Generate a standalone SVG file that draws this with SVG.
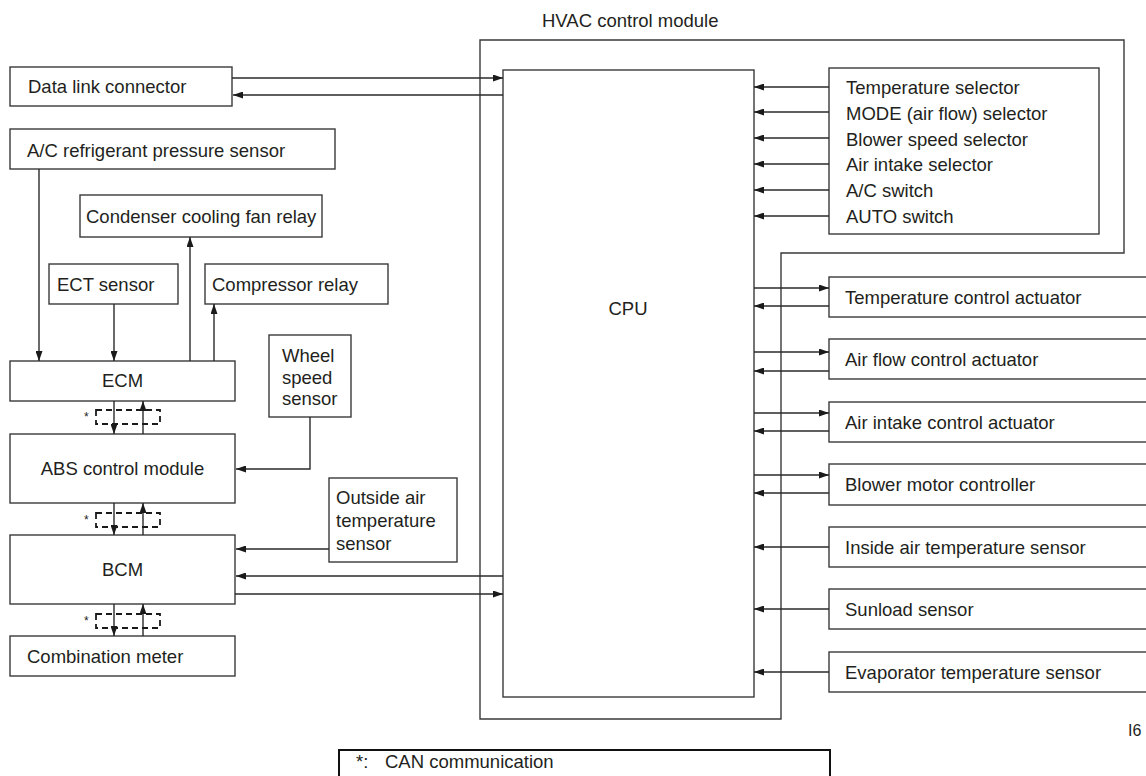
<svg xmlns="http://www.w3.org/2000/svg" width="1146" height="776" viewBox="0 0 1146 776">
<style>
.box{fill:#fff;stroke:#3a3a3a;stroke-width:1.4}
.frame{fill:none;stroke:#3a3a3a;stroke-width:1.4}
.t{font-family:"Liberation Sans",Arial,sans-serif;font-size:18.5px;fill:#231f20}
.c{text-anchor:middle}
.ln{fill:none;stroke:#2a2a2a;stroke-width:1.4}
.arr{marker-end:url(#ah)}
.can{fill:none;stroke:#1a1a1a;stroke-width:1.8;stroke-dasharray:6,4}
</style>
<defs>
<marker id="ah" markerUnits="userSpaceOnUse" markerWidth="10" markerHeight="7" refX="10" refY="3.5" orient="auto">
<path d="M0,0 L10,3.5 L0,7 z" fill="#1a1a1a"/>
</marker>
</defs>

<g id="hvac-module">
<path class="frame" d="M480,40 H1124 V253 H781 V719 H480 Z"/>
<text class="t" x="542" y="27">HVAC control module</text>
</g>

<g id="cpu">
<rect class="box" x="503" y="70" width="251" height="627"/>
<text class="t c" x="628" y="315">CPU</text>
</g>

<g id="selectors">
<rect class="box" x="829" y="68" width="270" height="166"/>
<text class="t" x="846" y="94">Temperature selector</text>
<text class="t" x="846" y="120">MODE (air flow) selector</text>
<text class="t" x="846" y="146">Blower speed selector</text>
<text class="t" x="846" y="171">Air intake selector</text>
<text class="t" x="846" y="197">A/C switch</text>
<text class="t" x="846" y="223">AUTO switch</text>
</g>

<g id="temp-actuator"><rect class="box" x="829" y="277" width="340" height="40"/><text class="t" x="845" y="304">Temperature control actuator</text></g>
<g id="airflow-actuator"><rect class="box" x="829" y="339" width="340" height="40"/><text class="t" x="845" y="366">Air flow control actuator</text></g>
<g id="intake-actuator"><rect class="box" x="829" y="402" width="340" height="40"/><text class="t" x="845" y="429">Air intake control actuator</text></g>
<g id="blower-controller"><rect class="box" x="829" y="464" width="340" height="41"/><text class="t" x="845" y="491">Blower motor controller</text></g>
<g id="inside-air-sensor"><rect class="box" x="829" y="527" width="340" height="40"/><text class="t" x="845" y="554">Inside air temperature sensor</text></g>
<g id="sunload-sensor"><rect class="box" x="829" y="589" width="340" height="40"/><text class="t" x="845" y="616">Sunload sensor</text></g>
<g id="evaporator-sensor"><rect class="box" x="829" y="652" width="340" height="40"/><text class="t" x="845" y="679">Evaporator temperature sensor</text></g>

<g id="data-link"><rect class="box" x="10" y="67" width="222" height="39"/><text class="t" x="28" y="93">Data link connector</text></g>
<g id="ac-pressure"><rect class="box" x="10" y="129" width="325" height="40"/><text class="t" x="27" y="157">A/C refrigerant pressure sensor</text></g>
<g id="condenser-relay"><rect class="box" x="80" y="195" width="242" height="42"/><text class="t" x="86" y="223">Condenser cooling fan relay</text></g>
<g id="ect-sensor"><rect class="box" x="49" y="264" width="129" height="40"/><text class="t" x="57" y="291">ECT sensor</text></g>
<g id="compressor-relay"><rect class="box" x="205" y="264" width="183" height="40"/><text class="t" x="212" y="291">Compressor relay</text></g>
<g id="ecm"><rect class="box" x="10" y="361" width="225" height="40"/><text class="t c" x="122.5" y="387">ECM</text></g>
<g id="wheel-speed"><rect class="box" x="269" y="335" width="82" height="82"/>
<text class="t" x="282" y="362">Wheel</text><text class="t" x="282" y="383.5">speed</text><text class="t" x="282" y="405">sensor</text></g>
<g id="abs"><rect class="box" x="10" y="434" width="225" height="69"/><text class="t c" x="122.5" y="475">ABS control module</text></g>
<g id="outside-air"><rect class="box" x="329" y="478" width="128" height="84"/>
<text class="t" x="336" y="504">Outside air</text><text class="t" x="336" y="527">temperature</text><text class="t" x="336" y="550">sensor</text></g>
<g id="bcm"><rect class="box" x="10" y="535" width="225" height="69"/><text class="t c" x="122.5" y="576">BCM</text></g>
<g id="combination-meter"><rect class="box" x="10" y="636" width="225" height="40"/><text class="t" x="27" y="663">Combination meter</text></g>

<g id="connectors">
<line class="ln arr" x1="232" y1="78" x2="503" y2="78"/>
<line class="ln arr" x1="503" y1="95" x2="233" y2="95"/>
<line class="ln arr" x1="39" y1="169" x2="39" y2="361"/>
<line class="ln arr" x1="114" y1="304" x2="114" y2="361"/>
<line class="ln arr" x1="190" y1="361" x2="190" y2="237"/>
<line class="ln arr" x1="214" y1="361" x2="214" y2="304"/>
<polyline class="ln arr" points="310,417 310,469 236,469"/>
<line class="ln arr" x1="114" y1="401" x2="114" y2="434"/>
<line class="ln arr" x1="143" y1="434" x2="143" y2="401"/>
<line class="ln arr" x1="114" y1="503" x2="114" y2="535"/>
<line class="ln arr" x1="143" y1="535" x2="143" y2="503"/>
<line class="ln arr" x1="114" y1="604" x2="114" y2="636"/>
<line class="ln arr" x1="143" y1="636" x2="143" y2="604"/>
<line class="ln arr" x1="329" y1="549" x2="236" y2="549"/>
<line class="ln arr" x1="503" y1="576" x2="236" y2="576"/>
<line class="ln arr" x1="235" y1="594" x2="503" y2="594"/>
<line class="ln arr" x1="829" y1="87" x2="754" y2="87"/>
<line class="ln arr" x1="829" y1="112" x2="754" y2="112"/>
<line class="ln arr" x1="829" y1="138" x2="754" y2="138"/>
<line class="ln arr" x1="829" y1="164" x2="754" y2="164"/>
<line class="ln arr" x1="829" y1="190" x2="754" y2="190"/>
<line class="ln arr" x1="829" y1="216" x2="754" y2="216"/>
<line class="ln arr" x1="754" y1="288" x2="829" y2="288"/>
<line class="ln arr" x1="829" y1="306" x2="754" y2="306"/>
<line class="ln arr" x1="754" y1="352" x2="829" y2="352"/>
<line class="ln arr" x1="829" y1="371" x2="754" y2="371"/>
<line class="ln arr" x1="754" y1="413" x2="829" y2="413"/>
<line class="ln arr" x1="829" y1="431" x2="754" y2="431"/>
<line class="ln arr" x1="754" y1="475" x2="829" y2="475"/>
<line class="ln arr" x1="829" y1="493" x2="754" y2="493"/>
<line class="ln arr" x1="829" y1="547" x2="754" y2="547"/>
<line class="ln arr" x1="829" y1="609" x2="754" y2="609"/>
<line class="ln arr" x1="829" y1="672" x2="754" y2="672"/>
</g>

<g id="can-links">
<rect class="can" x="96" y="410" width="64" height="14"/>
<rect class="can" x="96" y="513" width="64" height="14"/>
<rect class="can" x="96" y="614" width="64" height="14"/>
<text class="t" x="84" y="421" style="font-size:12px">*</text>
<text class="t" x="84" y="524" style="font-size:12px">*</text>
<text class="t" x="84" y="625" style="font-size:12px">*</text>
</g>

<g id="legend">
<rect x="339" y="750" width="491" height="40" fill="#fff" stroke="#111" stroke-width="2"/>
<text class="t" x="356" y="768">*:</text>
<text class="t" x="385" y="768">CAN communication</text>
</g>

<text class="t" x="1128" y="736" style="font-size:16px">I6</text>
</svg>
